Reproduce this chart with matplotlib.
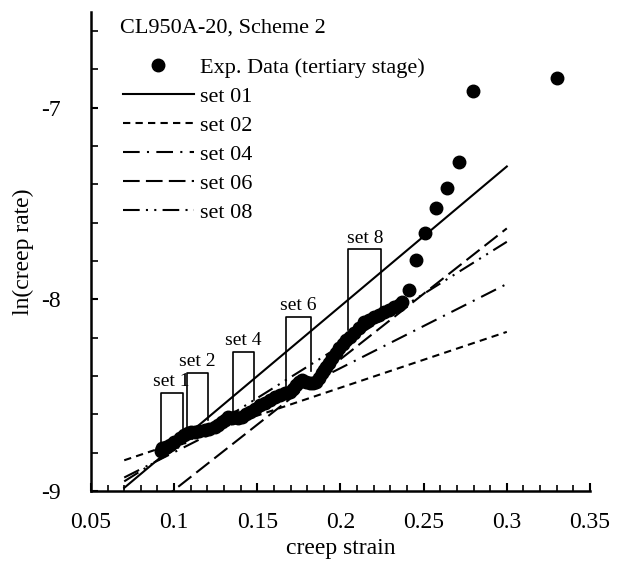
import matplotlib
matplotlib.use("Agg")
import matplotlib.pyplot as plt
from matplotlib.ticker import MultipleLocator
import numpy as np

plt.rcParams['font.family'] = ['Liberation Serif', 'DejaVu Serif']

# experimental data (tertiary stage)
exp_x = [0.0922, 0.0926, 0.0950, 0.0974, 0.1000, 0.1034, 0.1058, 0.1082, 0.1100,
         0.1124, 0.1150, 0.1184, 0.1210, 0.1244, 0.1265, 0.1286, 0.1305, 0.1322,
         0.1345, 0.1364, 0.1385, 0.1406, 0.1430, 0.1454, 0.1484, 0.1514, 0.1544,
         0.1574, 0.1604, 0.1634, 0.1664, 0.1694, 0.1712, 0.1730, 0.1748, 0.1766,
         0.1790, 0.1814, 0.1832, 0.1850, 0.1868, 0.1886, 0.1900, 0.1916, 0.1934,
         0.1952, 0.1972, 0.1994, 0.2015, 0.2036, 0.2060, 0.2084, 0.2114, 0.2144,
         0.2174, 0.2204, 0.2234, 0.2264, 0.2294, 0.2324, 0.2350, 0.2372, 0.2414,
         0.2456, 0.2510, 0.2576, 0.2642, 0.2714, 0.2798, 0.3302]
exp_y = [-8.790, -8.776, -8.770, -8.760, -8.745, -8.724, -8.710, -8.698, -8.695,
         -8.693, -8.688, -8.682, -8.675, -8.667, -8.655, -8.641, -8.628, -8.615,
         -8.617, -8.615, -8.617, -8.615, -8.600, -8.589, -8.570, -8.552, -8.540,
         -8.526, -8.512, -8.500, -8.490, -8.484, -8.466, -8.448, -8.434, -8.422,
         -8.430, -8.438, -8.436, -8.432, -8.410, -8.385, -8.370, -8.354, -8.330,
         -8.307, -8.280, -8.255, -8.235, -8.214, -8.195, -8.177, -8.148, -8.120,
         -8.106, -8.094, -8.081, -8.068, -8.055, -8.042, -8.030, -8.016, -7.953,
         -7.797, -7.656, -7.526, -7.417, -7.286, -6.911, -6.844]

# fitted lines, end points at strain 0.07 and 0.30
fit_x = [0.07, 0.30]
fit_names = ['set 01', 'set 02', 'set 04', 'set 06', 'set 08']
fit_y = {'set 01': [-8.984, -7.307],
         'set 02': [-8.840, -8.170],
         'set 04': [-8.930, -7.920],
         'set 06': [-9.200, -7.630],
         'set 08': [-8.950, -7.700]}
fit_dash = {'set 01': None,
            'set 02': (3.5, 2.5),
            'set 04': (8, 3.5, 1, 3.5),
            'set 06': (8, 3),
            'set 08': (8, 3, 1, 3, 1, 3)}

# data windows used for each set
win_names = ['set 1', 'set 2', 'set 4', 'set 6', 'set 8']
win_left = [0.0920, 0.1076, 0.1352, 0.1670, 0.2048]
win_right = [0.1052, 0.1202, 0.1478, 0.1820, 0.2246]
win_top = [-8.490, -8.385, -8.276, -8.094, -7.740]
win_bot_left = [-8.745, -8.672, -8.589, -8.469, -8.160]
win_bot_right = [-8.677, -8.630, -8.526, -8.375, -8.040]

fig = plt.figure(figsize=(6.23, 5.63), dpi=100)
ax = fig.add_axes([0.146, 0.128, 0.801, 0.851])

ax.plot(exp_x, exp_y, 'o', color='black', markersize=9, label='Exp. Data (tertiary stage)',
        zorder=3)

for name in fit_names:
    if fit_dash[name] is None:
        ax.plot(fit_x, fit_y[name], color='black', lw=1.5, label=name)
    else:
        ax.plot(fit_x, fit_y[name], color='black', lw=1.5, dashes=fit_dash[name], label=name)

for i in range(len(win_names)):
    ax.plot([win_left[i], win_left[i], win_right[i], win_right[i]],
            [win_bot_left[i], win_top[i], win_top[i], win_bot_right[i]],
            color='black', lw=1.2)
    ax.text((win_left[i] + win_right[i]) / 2, win_top[i] + 0.015, win_names[i],
            ha='center', va='bottom', fontsize=14)

ax.set_xlim(0.05, 0.35)
ax.set_ylim(-9, -6.5)
ax.xaxis.set_minor_locator(MultipleLocator(0.01))
ax.yaxis.set_minor_locator(MultipleLocator(0.2))
ax.set_xticks([0.05, 0.1, 0.15, 0.2, 0.25, 0.3, 0.35])
ax.set_xticklabels(['0.05', '0.1', '0.15', '0.2', '0.25', '0.3', '0.35'])
ax.set_yticks([-9, -8, -7])
ax.set_yticklabels(['-9', '-8', '-7'])

ax.tick_params(axis='x', which='major', direction='in', length=6, width=1.5, pad=15, labelsize=17)
ax.tick_params(axis='x', which='minor', direction='in', length=4, width=1.2)
ax.tick_params(axis='y', which='major', direction='in', length=5, width=1.5, pad=22, labelsize=17)
ax.tick_params(axis='y', which='minor', direction='in', length=5, width=1.2)

for s in ['top', 'right']:
    ax.spines[s].set_visible(False)
for s in ['left', 'bottom']:
    ax.spines[s].set_linewidth(1.8)

ax.set_xlabel('creep strain', fontsize=17, labelpad=4)
ax.set_ylabel('ln(creep rate)', fontsize=17, labelpad=5)

ax.text(0.0674, -6.583, 'CL950A-20, Scheme 2', fontsize=16, ha='left', va='center')
ax.legend(loc='upper left', bbox_to_anchor=(0.064, 0.905), frameon=False, fontsize=16,
          handlelength=3.2, handletextpad=0.25, labelspacing=0.38, borderaxespad=0,
          borderpad=0)

fig.savefig('out.png', dpi=100)
